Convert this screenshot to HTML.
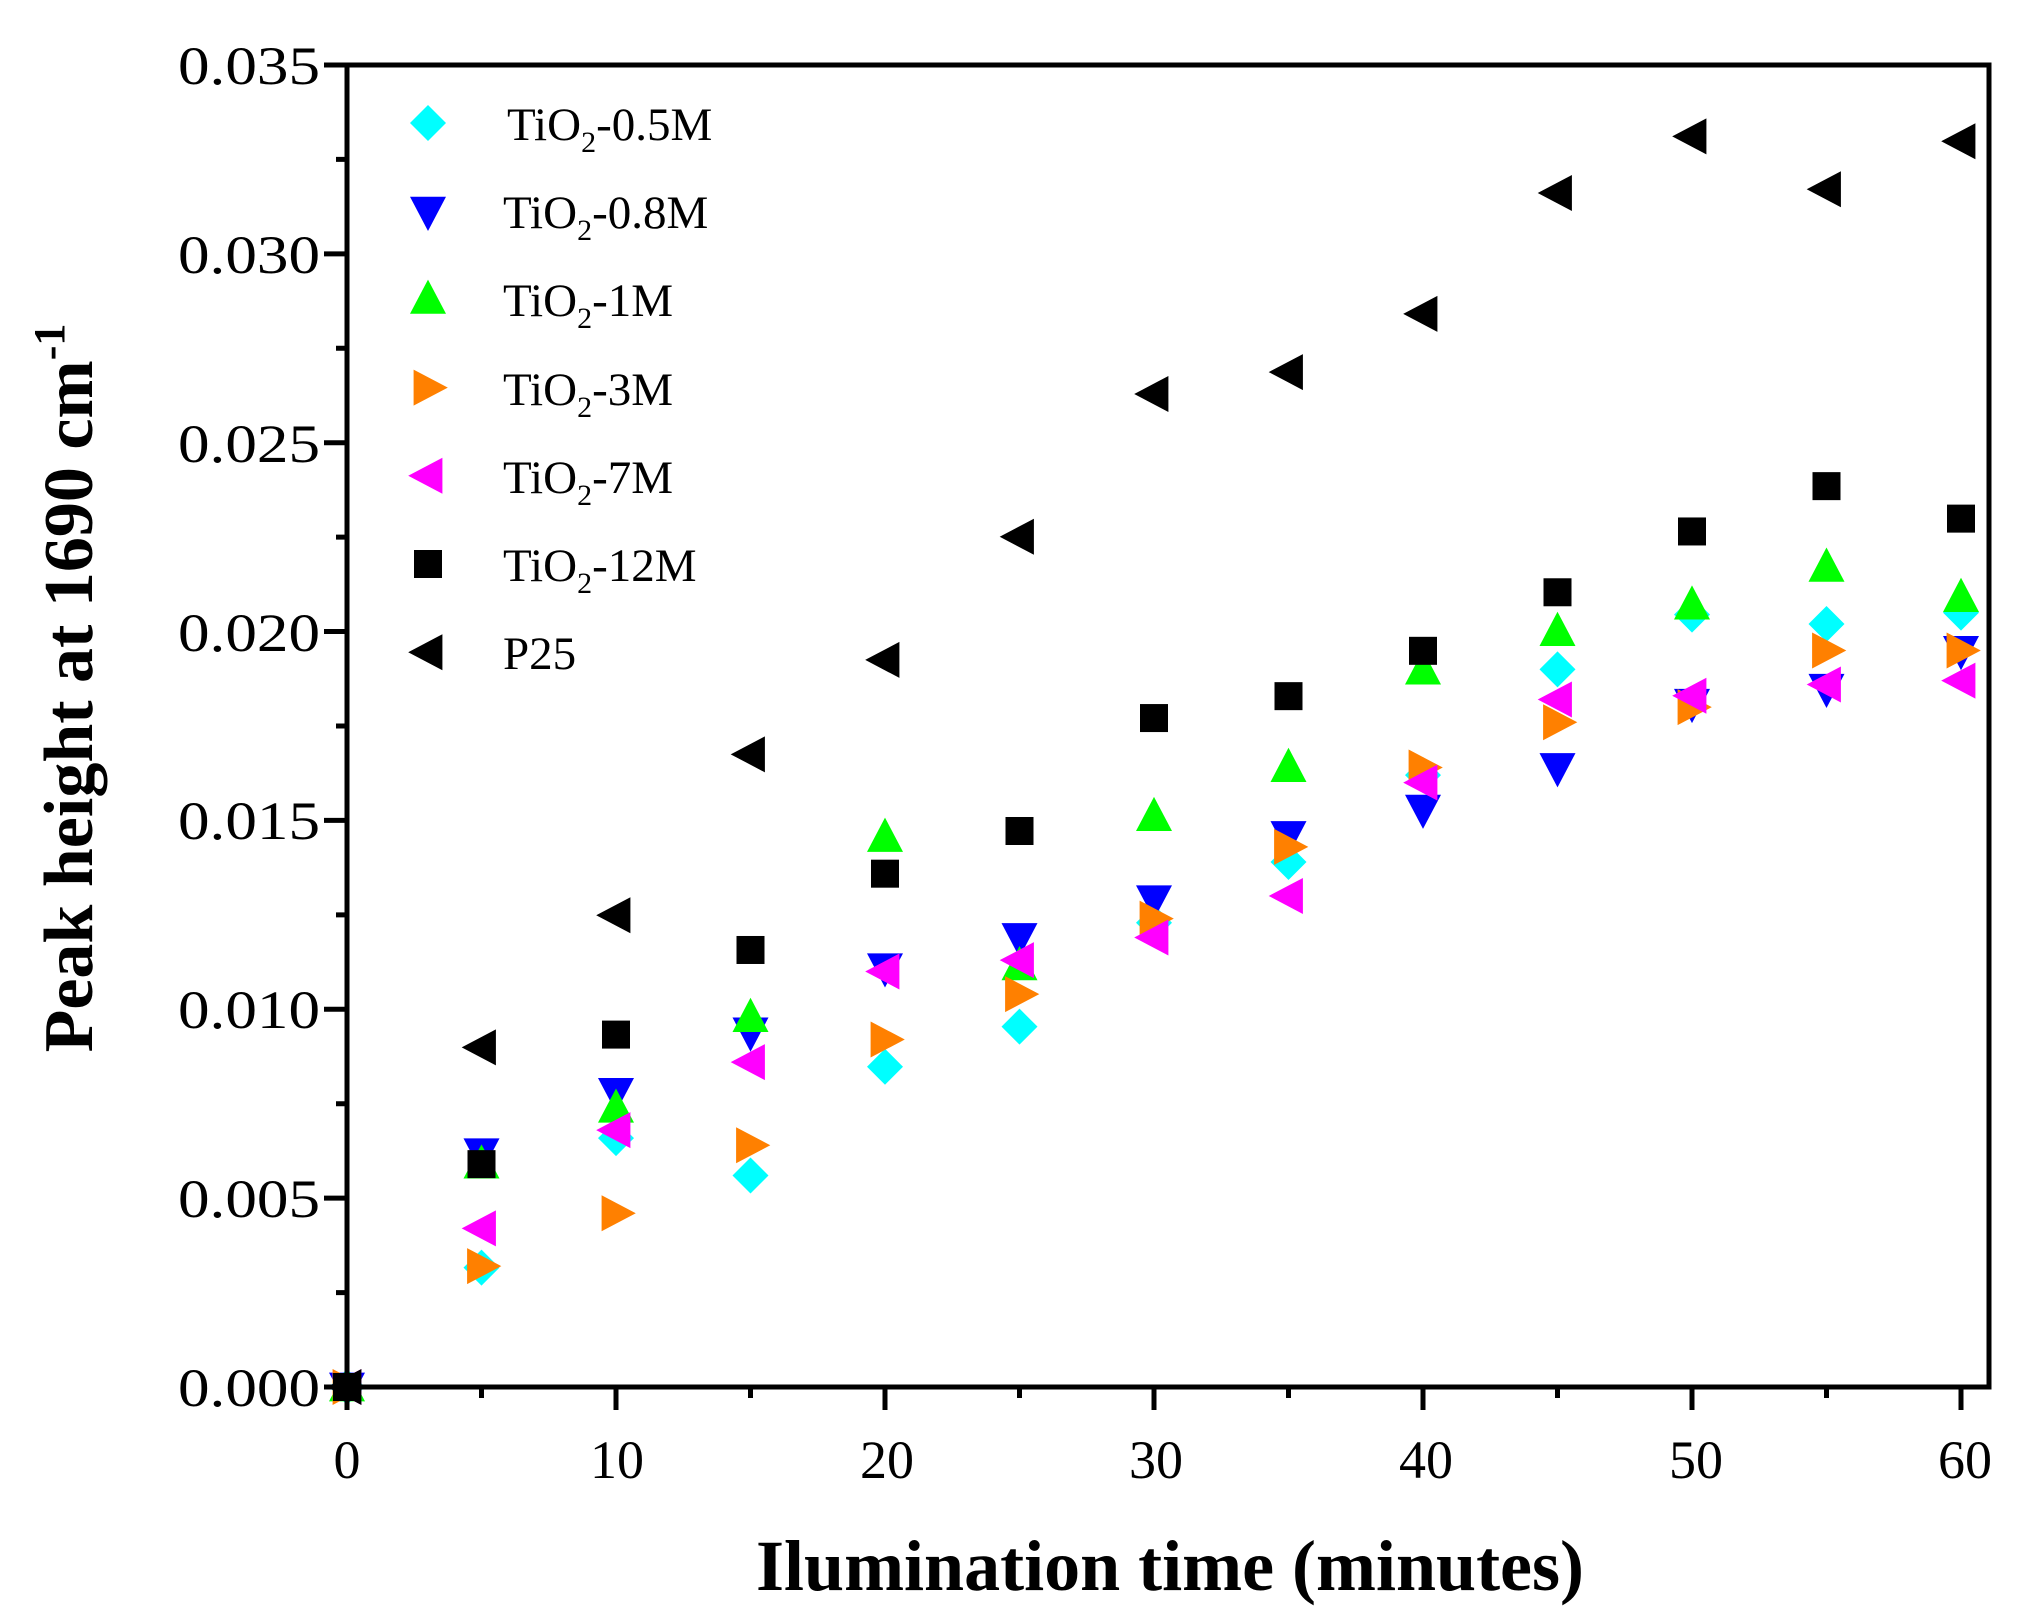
<!DOCTYPE html>
<html><head><meta charset="utf-8"><style>
html,body{margin:0;padding:0;background:#fff;}
svg{display:block;}
text{font-family:"Liberation Serif",serif;fill:#000;}
</style></head><body>
<svg id="s" width="2025" height="1615" viewBox="0 0 2025 1615" xmlns="http://www.w3.org/2000/svg">
<rect width="2025" height="1615" fill="#fff"/>
<g id="marks"></g>
<rect x="347" y="65" width="1642" height="1322" fill="none" stroke="#000" stroke-width="5"/>
<g id="ticks" stroke="#000" stroke-width="5"></g>
<g font-size="54" text-anchor="end">
<text x="320" y="84" textLength="142" lengthAdjust="spacingAndGlyphs">0.035</text>
<text x="320" y="273" textLength="142" lengthAdjust="spacingAndGlyphs">0.030</text>
<text x="320" y="462" textLength="142" lengthAdjust="spacingAndGlyphs">0.025</text>
<text x="320" y="651" textLength="142" lengthAdjust="spacingAndGlyphs">0.020</text>
<text x="320" y="839" textLength="142" lengthAdjust="spacingAndGlyphs">0.015</text>
<text x="320" y="1028" textLength="142" lengthAdjust="spacingAndGlyphs">0.010</text>
<text x="320" y="1217" textLength="142" lengthAdjust="spacingAndGlyphs">0.005</text>
<text x="320" y="1406" textLength="142" lengthAdjust="spacingAndGlyphs">0.000</text>
</g>
<g font-size="54" text-anchor="middle">
<text x="347" y="1478">0</text>
<text x="617" y="1478">10</text>
<text x="887" y="1478">20</text>
<text x="1156" y="1478">30</text>
<text x="1426" y="1478">40</text>
<text x="1696" y="1478">50</text>
<text x="1965" y="1478">60</text>
</g>
<text x="1170" y="1590" font-size="72" font-weight="bold" text-anchor="middle">Ilumination time (minutes)</text>
<text transform="translate(92,688) rotate(-90)" font-size="70" font-weight="bold" text-anchor="middle">Peak height at 1690 cm<tspan dy="-28" font-size="44">-1</tspan></text>
<g id="leg"></g>
<g font-size="47">
<text x="507" y="140">TiO<tspan dy="12" font-size="30">2</tspan><tspan dy="-12">-0.5M</tspan></text>
<text x="503" y="228">TiO<tspan dy="12" font-size="30">2</tspan><tspan dy="-12">-0.8M</tspan></text>
<text x="503" y="316">TiO<tspan dy="12" font-size="30">2</tspan><tspan dy="-12">-1M</tspan></text>
<text x="503" y="405">TiO<tspan dy="12" font-size="30">2</tspan><tspan dy="-12">-3M</tspan></text>
<text x="503" y="493">TiO<tspan dy="12" font-size="30">2</tspan><tspan dy="-12">-7M</tspan></text>
<text x="503" y="581">TiO<tspan dy="12" font-size="30">2</tspan><tspan dy="-12">-12M</tspan></text>
<text x="503" y="669">P25</text>
</g>
</svg>
<script>
var NS="http://www.w3.org/2000/svg";
function X(t){return 347+t*26.9;}
function Y(v){return 1387-v/0.005*188.86;}
function shape(k,x,y,c,g){
 var h=18,e;
 if(k=='sq'){e=document.createElementNS(NS,'rect');e.setAttribute('x',x-14);e.setAttribute('y',y-14);e.setAttribute('width',28);e.setAttribute('height',28);}
 else{e=document.createElementNS(NS,'polygon');var p;
  if(k=='d')p=[[x,y-h],[x+h,y],[x,y+h],[x-h,y]];
  if(k=='v')p=[[x-h,y-h*0.8],[x+h,y-h*0.8],[x,y+h*1.1]];
  if(k=='^')p=[[x-h,y+h*0.8],[x+h,y+h*0.8],[x,y-h*1.1]];
  if(k=='>')p=[[x-h*0.8,y-h],[x-h*0.8,y+h],[x+h*1.1,y]];
  if(k=='<')p=[[x+h*0.8,y-h],[x+h*0.8,y+h],[x-h*1.1,y]];
  e.setAttribute('points',p.map(function(a){return a.join(',')}).join(' '));}
 e.setAttribute('fill',c);g.appendChild(e);}
var S=[
['d','#00ffff',[0,0.00316,0.00659,0.0056,0.00848,0.00954,0.01229,0.0139,0.0162,0.019,0.02045,0.0202,0.0205]],
['v','#0000ff',[0,0.0062,0.0078,0.0094,0.0111,0.0119,0.0129,0.0146,0.0153,0.0164,0.0181,0.0185,0.0195]],
['^','#00ff00',[0,0.0059,0.00738,0.00978,0.01455,0.01115,0.0151,0.0164,0.01898,0.02,0.0207,0.0217,0.0209]],
['>','#ff8000',[0,0.0032,0.0046,0.0064,0.0092,0.0104,0.0124,0.0143,0.0164,0.0176,0.018,0.0195,0.0195]],
['<','#ff00ff',[0,0.0042,0.0068,0.0086,0.011,0.0113,0.0119,0.013,0.016,0.0182,0.0183,0.0186,0.0187]],
['sq','#000',[0,0.0059,0.00933,0.01157,0.01359,0.01472,0.01771,0.01829,0.01949,0.02104,0.02265,0.02385,0.02299]],
['<','#000',[0,0.00899,0.01249,0.01675,0.01925,0.02251,0.02629,0.02687,0.02841,0.03161,0.03311,0.03171,0.03298]]];
var g=document.getElementById('marks'),lg=document.getElementById('leg');
S.forEach(function(s,i){s[2].forEach(function(v,j){shape(s[0],X(j*5),Y(v),s[1],g);});
 shape(s[0],428,123+i*88.2,s[1],lg);});
var t=document.getElementById('ticks'),d='';
for(var i=0;i<=14;i++){var y=1387-i*94.43,L=(i%2==0)?23:11;d+='M'+(347-L)+','+y+'H347';}
for(var i=0;i<=12;i++){var x=347+i*134.5,L=(i%2==0)?23:11;d+='M'+x+',1387V'+(1387+L);}
var p=document.createElementNS(NS,'path');p.setAttribute('d',d);t.appendChild(p);
</script>
</body></html>
